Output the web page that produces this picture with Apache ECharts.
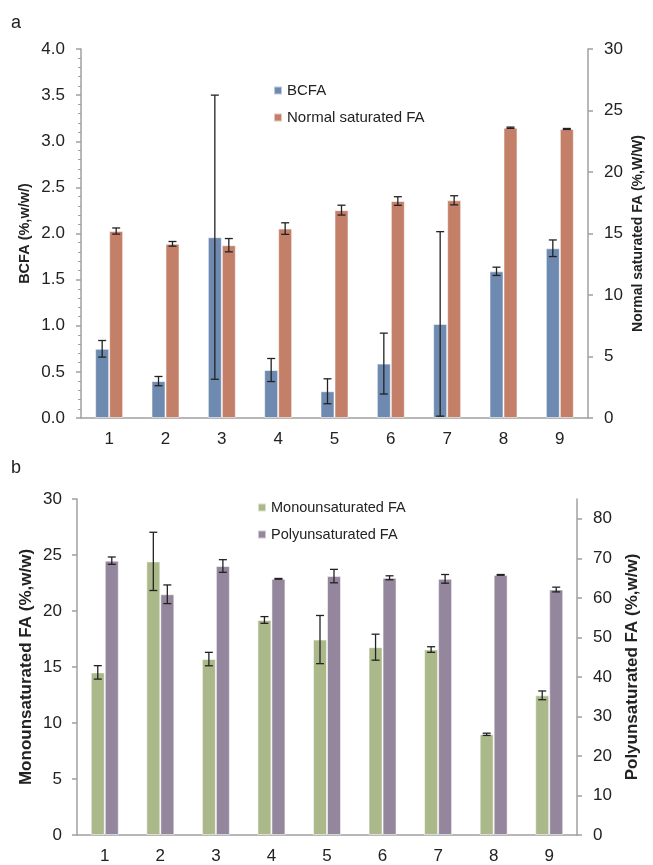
<!DOCTYPE html>
<html>
<head>
<meta charset="utf-8">
<script src="https://cdn.jsdelivr.net/npm/echarts@6/dist/echarts.min.js"></script>
<style>
  html, body { margin: 0; padding: 0; background: #fff; }
  #chart { width: 653px; height: 865px; }
</style>
</head>
<body>
<div id="chart"></div>
<script>
const categories = ['1', '2', '3', '4', '5', '6', '7', '8', '9'];

// panel a
const bcfa = [0.75, 0.40, 1.96, 0.52, 0.29, 0.59, 1.02, 1.59, 1.84];
const bcfaErr = [0.09, 0.05, 1.54, 0.125, 0.135, 0.33, 1.0, 0.045, 0.09];
const normalSat = [15.2, 14.16, 14.05, 15.4, 16.9, 17.64, 17.7, 23.6, 23.5];
const normalSatErr = [0.25, 0.19, 0.54, 0.47, 0.4, 0.35, 0.37, 0.05, 0.04];

// panel b
const mono = [14.52, 24.43, 15.71, 19.2, 17.45, 16.77, 16.56, 8.99, 12.47];
const monoErr = [0.6, 2.6, 0.6, 0.3, 2.15, 1.16, 0.25, 0.1, 0.39];
const poly = [69.4, 60.9, 68.05, 64.8, 65.5, 65.07, 64.8, 65.8, 62.1];
const polyErr = [0.93, 2.36, 1.6, 0.1, 1.7, 0.5, 1.1, 0.1, 0.6];

const rightTicksB = [0, 10, 20, 30, 40, 50, 60, 70, 80];

const chart = echarts.init(document.getElementById('chart'));

const axisGrey = '#a0a0a0';
const labelColor = '#222';
const BAR_W = 14;

function errorSeries(name, values, errs, xi, yi, dx) {
  return {
    type: 'custom',
    name: name + ' err',
    xAxisIndex: xi,
    yAxisIndex: yi,
    z: 10,
    silent: true,
    data: values.map((v, i) => [i, v, errs[i]]),
    renderItem: function (params, api) {
      const i = api.value(0), v = api.value(1), e = api.value(2);
      const top = api.coord([i, v + e]);
      const bot = api.coord([i, v - e]);
      const x = top[0] + dx;
      const style = { stroke: '#222', lineWidth: 1.3 };
      return {
        type: 'group',
        children: [
          { type: 'line', shape: { x1: x, y1: top[1], x2: x, y2: bot[1] }, style: style },
          { type: 'line', shape: { x1: x - 4, y1: top[1], x2: x + 4, y2: top[1] }, style: style },
          { type: 'line', shape: { x1: x - 4, y1: bot[1], x2: x + 4, y2: bot[1] }, style: style }
        ]
      };
    }
  };
}

function catAxis(gi) {
  return {
    type: 'category',
    gridIndex: gi,
    data: categories,
    axisLine: { lineStyle: { color: axisGrey, width: 1.5 } },
    axisTick: { length: 5, lineStyle: { color: axisGrey, width: 1.5 } },
    axisLabel: { fontSize: 17, color: labelColor, margin: 13, fontFamily: 'Liberation Sans' }
  };
}

function valAxis(gi, pos, min, max, interval, name, nameGap, nameSize, extra) {
  return Object.assign({
    type: 'value',
    gridIndex: gi,
    position: pos,
    min: min,
    max: max,
    interval: interval,
    name: name,
    nameLocation: 'middle',
    nameRotate: 90,
    nameGap: nameGap,
    nameMoveOverlap: false,
    nameTextStyle: { fontSize: nameSize, fontWeight: 'bold', color: labelColor, fontFamily: 'Liberation Sans' },
    splitLine: { show: false },
    axisLine: { show: true, lineStyle: { color: axisGrey, width: 1.5 } },
    axisTick: { show: true, length: 5, lineStyle: { color: axisGrey, width: 1.5 } },
    axisLabel: { fontSize: 17, color: labelColor, margin: 15, fontFamily: 'Liberation Sans' }
  }, extra || {});
}

const option = {
  animation: false,
  textStyle: { fontFamily: 'Liberation Sans' },
  grid: [
    { left: 81, right: 63, top: 49, height: 369 },
    { left: 77, right: 76, top: 499, height: 337 }
  ],
  legend: [
    {
      data: ['BCFA', 'Normal saturated FA'],
      orient: 'vertical',
      left: 268,
      top: 78,
      icon: 'rect',
      itemWidth: 8,
      itemHeight: 8,
      itemGap: 12,
      textStyle: { fontSize: 15, color: labelColor }
    },
    {
      data: ['Monounsaturated FA', 'Polyunsaturated FA'],
      orient: 'vertical',
      left: 252,
      top: 495,
      icon: 'rect',
      itemWidth: 8,
      itemHeight: 8,
      itemGap: 12,
      textStyle: { fontSize: 14.5, color: labelColor }
    }
  ],
  graphic: [
    { type: 'text', left: 11, top: 14, style: { text: 'a', fontSize: 18, fill: labelColor, fontFamily: 'Liberation Sans' } },
    { type: 'text', left: 11, top: 459, style: { text: 'b', fontSize: 18, fill: labelColor, fontFamily: 'Liberation Sans' } }
  ],
  xAxis: [catAxis(0), catAxis(1)],
  yAxis: [
    valAxis(0, 'left', 0, 4, 0.5, 'BCFA (%,w/w/)', 49, 14.5, {
      minorTick: { show: true, splitNumber: 5, length: 3, lineStyle: { color: axisGrey } },
      axisLabel: { fontSize: 17, color: labelColor, margin: 16, fontFamily: 'Liberation Sans',
        formatter: v => v.toFixed(1) }
    }),
    valAxis(0, 'right', 0, 30, 5, 'Normal saturated FA (%,W/W)', 43, 14, {
      axisLabel: { fontSize: 17, color: labelColor, margin: 16, fontFamily: 'Liberation Sans' }
    }),
    valAxis(1, 'left', 0, 30, 5, 'Monounsaturated FA (%,w/w)', 42, 17),
    valAxis(1, 'right', 0, 85, 10, 'Polyunsaturated FA (%,w/w)', 47, 17, {
      axisTick: { show: true, length: 5, customValues: rightTicksB, lineStyle: { color: axisGrey, width: 1.5 } },
      axisLabel: { fontSize: 17, color: labelColor, margin: 16, fontFamily: 'Liberation Sans', customValues: rightTicksB }
    })
  ],
  series: [
    {
      name: 'BCFA', type: 'bar', xAxisIndex: 0, yAxisIndex: 0,
      data: bcfa, barWidth: BAR_W, barGap: '0%',
      itemStyle: { color: '#6e8ab0', borderColor: 'rgba(255,255,255,0.55)', borderWidth: 1 }
    },
    {
      name: 'Normal saturated FA', type: 'bar', xAxisIndex: 0, yAxisIndex: 1,
      data: normalSat, barWidth: BAR_W, barGap: '0%',
      itemStyle: { color: '#c47f69', borderColor: 'rgba(255,255,255,0.55)', borderWidth: 1 }
    },
    {
      name: 'Monounsaturated FA', type: 'bar', xAxisIndex: 1, yAxisIndex: 2,
      data: mono, barWidth: BAR_W, barGap: '0%',
      itemStyle: { color: '#abb88a', borderColor: 'rgba(255,255,255,0.55)', borderWidth: 1 }
    },
    {
      name: 'Polyunsaturated FA', type: 'bar', xAxisIndex: 1, yAxisIndex: 3,
      data: poly, barWidth: BAR_W, barGap: '0%',
      itemStyle: { color: '#94869c', borderColor: 'rgba(255,255,255,0.55)', borderWidth: 1 }
    },
    errorSeries('BCFA', bcfa, bcfaErr, 0, 0, -BAR_W / 2),
    errorSeries('Normal saturated FA', normalSat, normalSatErr, 0, 1, BAR_W / 2),
    errorSeries('Monounsaturated FA', mono, monoErr, 1, 2, -BAR_W / 2),
    errorSeries('Polyunsaturated FA', poly, polyErr, 1, 3, BAR_W / 2)
  ]
};

chart.setOption(option);
</script>
</body>
</html>
